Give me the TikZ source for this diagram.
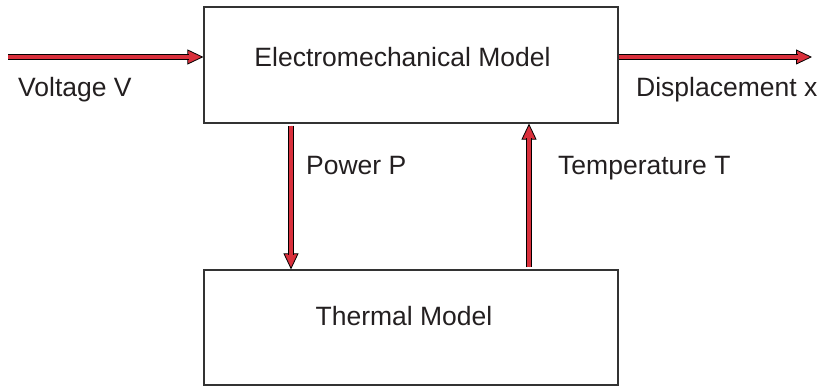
\documentclass[tikz,border=0pt]{standalone}
\usepackage{fontspec}
\setmainfont{Liberation Sans}
\usetikzlibrary{arrows.meta,calc}
\definecolor{arrred}{HTML}{D9303C}
\definecolor{txt}{HTML}{231F20}
\definecolor{boxline}{HTML}{333333}
\tikzset{
  block/.style={draw=boxline, line width=1.2pt, minimum width=414pt, inner sep=0pt, rectangle},
  lbl/.style={inner sep=0pt, text=txt, font=\fontsize{26.5}{30}\selectfont},
  tipline/.style={draw=black, line width=0.8pt, -{Triangle[length=16pt,width=15pt,fill=arrred,line width=0.8pt]}},
  shaft/.style={draw=black, line width=1pt, double=arrred, double distance=3.2pt, shorten >=14pt}
}
\begin{document}
\begin{tikzpicture}[x=1pt,y=1pt]
\useasboundingbox (0,0) rectangle (825,386);
\node[block, minimum height=116pt] (ebox) at (411,321) {};
\node[block, minimum height=115pt] (tbox) at (411,58.5) {};
\node[lbl, anchor=base] (etext) at (402.5,319) {Electromechanical Model};
\node[lbl, anchor=base] (ttext) at (404,61) {Thermal Model};
\node[lbl, anchor=base west] (vlab) at (18,289) {Voltage V};
\node[lbl, anchor=base west] (dlab) at (636,289) {Displacement x};
\node[lbl, anchor=base west] (plab) at (306,211) {Power P};
\node[lbl, anchor=base west] (tlab) at (558,211) {Temperature T};
\coordinate (vin) at (8,329);
\coordinate (vout) at (812,329);
\coordinate (px) at (291,0);
\coordinate (tx) at (529,0);
% input arrow
\draw[tipline] (vin) -- (ebox.west |- vin);
\draw[shaft] (vin) -- (ebox.west |- vin);
% output arrow
\draw[tipline] (ebox.east |- vin) -- (vout);
\draw[shaft] (ebox.east |- vin) -- (vout);
% power arrow
\draw[tipline] ($(ebox.south -| px)+(0,-2)$) -- (tbox.north -| px);
\draw[shaft] ($(ebox.south -| px)+(0,-2)$) -- (tbox.north -| px);
% temperature arrow
\draw[tipline] ($(tbox.north -| tx)+(0,2)$) -- (ebox.south -| tx);
\draw[shaft] ($(tbox.north -| tx)+(0,2)$) -- (ebox.south -| tx);
\end{tikzpicture}
\end{document}
